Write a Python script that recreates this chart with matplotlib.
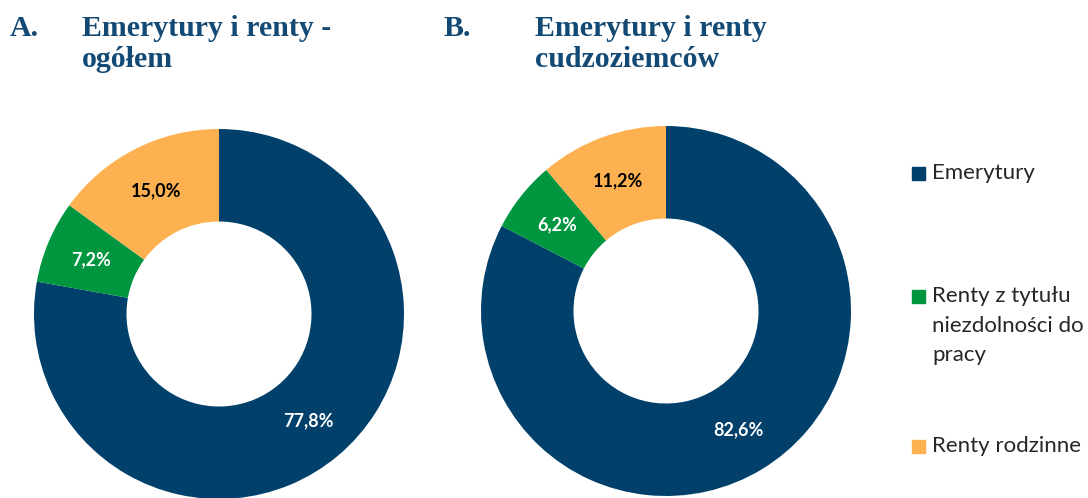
import numpy as np
import matplotlib.pyplot as plt
from matplotlib.patches import Rectangle

# Dane
categories = ['Emerytury', 'Renty z tytułu\nniezdolności do\npracy', 'Renty rodzinne']
values_a = [77.8, 7.2, 15.0]
values_b = [82.6, 6.2, 11.2]
letters = ['A.', 'B.']
titles = ['Emerytury i renty -\nogółem', 'Emerytury i renty\ncudzoziemców']

colors = ['#00406B', '#00963F', '#FDB150']
label_colors = ['white', 'white', 'black']
title_color = '#124A75'

W, H = 1088, 498
fig = plt.figure(figsize=(W / 100, H / 100), dpi=100)

R = 185
centers = [(219, 314), (666, 311)]

for i, vals in enumerate([values_a, values_b]):
    cx, cy = centers[i]
    ax = fig.add_axes([(cx - R) / W, (H - cy - R) / H, 2 * R / W, 2 * R / H])
    wedges, _ = ax.pie(vals, colors=colors, startangle=90, counterclock=False,
                       radius=1, wedgeprops=dict(width=0.5, edgecolor='none'))
    ax.set_xlim(-1, 1)
    ax.set_ylim(-1, 1)
    ax.set_aspect('equal')
    ax.axis('off')
    for j, w in enumerate(wedges):
        ang = np.radians((w.theta1 + w.theta2) / 2)
        ax.text(0.75 * np.cos(ang), 0.75 * np.sin(ang), f'{vals[j]:.1f}%'.replace('.', ','),
                ha='center', va='center', color=label_colors[j], fontsize=13,
                fontweight='bold', family='Lato')

# Tytuły
title_x = [(10, 82), (443, 535)]
for i in range(2):
    lx, tx = title_x[i]
    fig.text(lx / W, 1 - 15 / H, letters[i], ha='left', va='top', fontsize=21.5,
             fontweight='bold', family='Liberation Serif', color=title_color)
    fig.text(tx / W, 1 - 15 / H, titles[i], ha='left', va='top', fontsize=21.5,
             fontweight='bold', family='Liberation Serif', color=title_color, linespacing=1.2)

# Legenda
leg_y = [173, 296, 446]
for j, lab in enumerate(categories):
    y = leg_y[j]
    fig.add_artist(Rectangle(((912) / W, 1 - (y + 7) / H), 13 / W, 13 / H,
                             transform=fig.transFigure, color=colors[j]))
    fig.text(932 / W, 1 - (y - 10) / H, lab, ha='left', va='top', fontsize=16,
             family='Lato', color='#262626', linespacing=1.6)

fig.savefig('out.png', dpi=100)
